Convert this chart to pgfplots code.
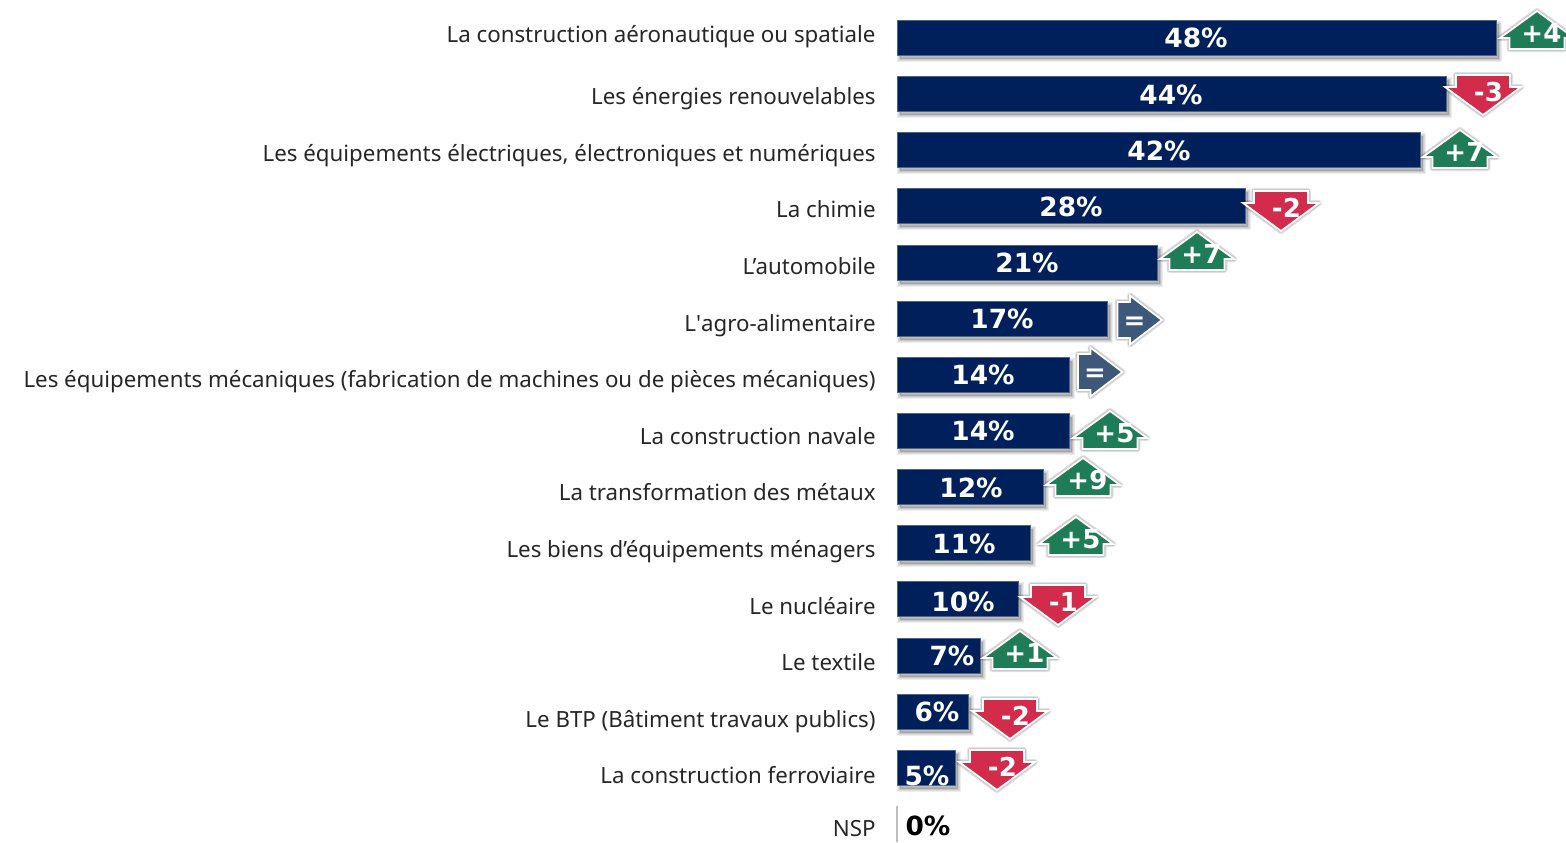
\documentclass[border=0pt]{standalone}
\usepackage{fontspec}
\usepackage{pgfplots}
\usepackage{pgfplotstable}
\pgfplotsset{compat=1.18}
\setmainfont{Noto Sans}
\newfontfamily\valfont{DejaVu Sans}

\definecolor{navy}{HTML}{00205B}
\definecolor{upgreen}{HTML}{1E7D57}
\definecolor{downred}{HTML}{D22B4B}
\definecolor{slate}{HTML}{3D5878}

% y column is the pixel row of the reference, x is in percent (12.5 px per %)
\pgfplotstableread{
val y
47.95 38
43.95 94
41.85 150
27.85 206
20.85 263
16.85 319
13.8 375
13.8 431
11.7 487
10.65 543
9.7 599
6.65 656
5.7 712
4.65 768
}\bars

\pgfplotstableread{
x y label
23.92 38 48
21.92 95 44
20.96 151 42
13.92 207 28
10.4 263 21
8.4 319 17
6.88 375 14
6.88 431 14
5.92 488 12
5.36 544 11
5.28 602 10
4.4 656 7
3.2 712 6
2.4 776 5
}\values

\pgfplotstableread{
x y label
51.2 30 +4
45.04 149 +7
24.0 251 +7
17.04 430 +5
14.88 477 +9
14.32 536 +5
9.84 650 +1
}\ups

\pgfplotstableread{
x y label
46.88 95 -3
30.72 211 -2
12.88 605 -1
9.04 719 -2
8.0 770 -2
}\downs

\pgfplotstableread{
x y label
19.4 320 =
16.24 372 =
}\equals

\newcommand{\softshadow}[1]{%
  \foreach \w in {3pt,2pt,1pt,.2pt}{%
    \path[fill=black,draw=black,opacity=.11,line width=\w,line join=round,shift={(2.4pt,-2.8pt)}] #1;}}
\newcommand{\arrowbody}[2]{%
  \softshadow{#2}
  \path[fill=#1,draw=white,line width=.9pt,line join=miter] #2;}

\pgfdeclareplotmark{uparrow}{\arrowbody{upgreen}{(0,9.5pt)--(18.6pt,-4pt)--(13.75pt,-4pt)--(13.75pt,-9.5pt)--(-13.75pt,-9.5pt)--(-13.75pt,-4pt)--(-18.6pt,-4pt)--cycle}}
\pgfdeclareplotmark{downarrow}{\arrowbody{downred}{(0,-10pt)--(19pt,4pt)--(13.5pt,4pt)--(13.5pt,10pt)--(-13.5pt,10pt)--(-13.5pt,4pt)--(-19pt,4pt)--cycle}}
\pgfdeclareplotmark{rightarrow}{\arrowbody{slate}{(11.25pt,0)--(-4.75pt,12.2pt)--(-4.75pt,9pt)--(-11pt,9pt)--(-11pt,-9pt)--(-4.75pt,-9pt)--(-4.75pt,-12.2pt)--cycle}}

\tikzset{
  arrowtext/.style={font=\valfont\bfseries\fontsize{13}{13}\selectfont,text=white,inner sep=0pt,anchor=center,xshift=#1},
}
\pgfplotsset{
  arrowlabels/.style={
    only marks,
    mark=#1,
    point meta=explicit symbolic,
    nodes near coords={\pgfplotspointmeta},
    nodes near coords align=center,
  },
}

\begin{document}
\begin{tikzpicture}[x=1pt,y=1pt]
\clip[use as bounding box] (0,0) rectangle (783,421);
\begin{axis}[
    at={(448.5pt,0pt)},
    anchor=south west,
    scale only axis,
    width=334.5pt,
    height=421pt,
    xmin=0, xmax=53.52,
    ymin=0, ymax=842,
    y dir=reverse,
    clip=false,
    axis line style={draw=none},
    xtick=\empty,
    ytick={34,96,153,209,266,323,379,436,492,549,606,662,719,775,828},
    yticklabels={
      {La construction aéronautique ou spatiale},
      {Les énergies renouvelables},
      {Les équipements électriques, électroniques et numériques},
      {La chimie},
      {L’automobile},
      {L\textquotesingle agro-alimentaire},
      {Les équipements mécaniques (fabrication de machines ou de pièces mécaniques)},
      {La construction navale},
      {La transformation des métaux},
      {Les biens d’équipements ménagers},
      {Le nucléaire},
      {Le textile},
      {Le BTP (Bâtiment travaux publics)},
      {La construction ferroviaire},
      {NSP}},
    major tick length=0pt,
    yticklabel style={font=\fontsize{11.15}{11.15}\selectfont,text=black!85,inner sep=0pt,anchor=east,xshift=-10.5pt,yshift=-1pt,text height=9pt,text depth=2.5pt},
]
\addplot[xbar, bar width=17.6pt, bar shift=0pt, fill=navy, draw=navy!70!white, line width=.3pt,
    preaction={fill=black,draw=black,opacity=.07,line width=3pt,transform canvas={xshift=1.4pt,yshift=-1.8pt}},
    preaction={fill=black,draw=black,opacity=.07,line width=2pt,transform canvas={xshift=1.4pt,yshift=-1.8pt}},
    preaction={fill=black,draw=black,opacity=.07,line width=1pt,transform canvas={xshift=1.4pt,yshift=-1.8pt}}]
    table[x=val,y=y] {\bars};
\addplot[xbar, bar width=18pt, bar shift=0pt, draw=black!25, line width=1pt] coordinates {(0,824)};

\addplot[only marks, mark=none, point meta=explicit symbolic,
    nodes near coords={\pgfplotspointmeta\%}, nodes near coords align=center,
    every node near coord/.append style={font=\valfont\bfseries\fontsize{13.2}{13.2}\selectfont,text=white,inner sep=0pt,anchor=center}]
    table[x=x,y=y,meta=label] {\values};
\addplot[only marks, mark=none, point meta=explicit symbolic,
    nodes near coords={\pgfplotspointmeta\%}, nodes near coords align=center,
    every node near coord/.append style={font=\valfont\bfseries\fontsize{13.2}{13.2}\selectfont,text=black,inner sep=0pt,anchor=center}]
    table[x=x,y=y,meta=label] {
x y label
2.48 826 0
};

\addplot[arrowlabels=uparrow,
    every node near coord/.append style={arrowtext=2.2pt,yshift=-1.7pt}]
    table[x=x,y=y,meta=label] {\ups};
\addplot[arrowlabels=downarrow,
    every node near coord/.append style={arrowtext=2.7pt,yshift=1.5pt}]
    table[x=x,y=y,meta=label] {\downs};
\addplot[arrowlabels=rightarrow,
    every node near coord/.append style={arrowtext=-2.5pt,yshift=-1.7pt}]
    table[x=x,y=y,meta=label] {\equals};
\end{axis}
\end{tikzpicture}
\end{document}
